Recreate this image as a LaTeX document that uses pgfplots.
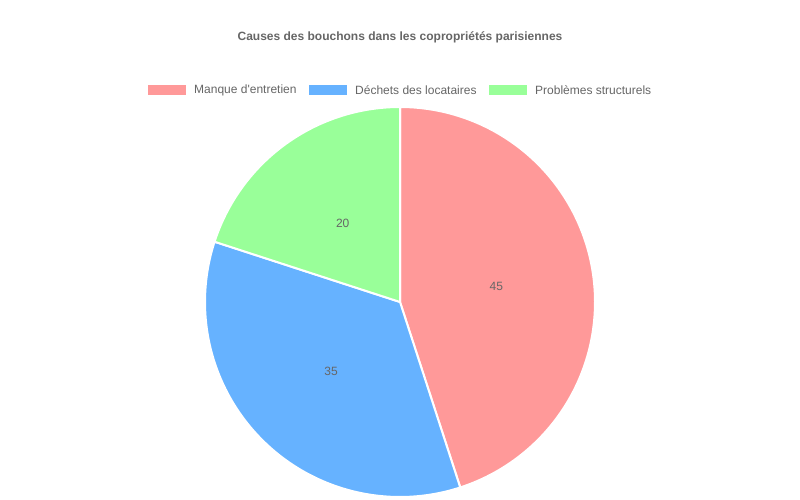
\documentclass[border=0pt]{standalone}
\usepackage{pgfplots}
\pgfplotsset{compat=1.18}
\usepackage{fontspec}
\setmainfont{Liberation Sans}
\definecolor{cA}{HTML}{FF9999}
\definecolor{cB}{HTML}{66B2FF}
\definecolor{cC}{HTML}{99FF99}
\definecolor{txt}{HTML}{666666}
\begin{document}
\begin{tikzpicture}
\fill[white] (0,0) rectangle (800pt,500pt);
\def\vA{45}\def\vB{35}\def\vC{20}
\pgfmathsetmacro\aA{90}
\pgfmathsetmacro\aB{90-3.6*\vA}
\pgfmathsetmacro\aC{\aB-3.6*\vB}
\pgfmathsetmacro\aD{\aC-3.6*\vC}
\pgfmathsetmacro\mA{(\aA+\aB)/2}
\pgfmathsetmacro\mB{(\aB+\aC)/2}
\pgfmathsetmacro\mC{(\aC+\aD)/2}
\begin{axis}[
  at={(0,0)}, anchor=south west,
  width=800pt, height=500pt, scale only axis,
  xmin=0, xmax=800, ymin=0, ymax=500,
  axis lines=none, clip=false,
]
\addplot[fill=cA, draw=white, line width=2pt, domain=\aB:\aA, samples=120, line join=round]
  ({400+195*cos(x)},{198+195*sin(x)}) -- (axis cs:400,198) -- cycle;
\addplot[fill=cB, draw=white, line width=2pt, domain=\aC:\aB, samples=120, line join=round]
  ({400+195*cos(x)},{198+195*sin(x)}) -- (axis cs:400,198) -- cycle;
\addplot[fill=cC, draw=white, line width=2pt, domain=\aD:\aC, samples=120, line join=round]
  ({400+195*cos(x)},{198+195*sin(x)}) -- (axis cs:400,198) -- cycle;
\node[text=txt, font=\fontsize{12}{14}\selectfont] at (axis cs:{400+97.5*cos(\mA)},{198+97.5*sin(\mA)}) {\vA};
\node[text=txt, font=\fontsize{12}{14}\selectfont] at (axis cs:{400+97.5*cos(\mB)},{198+97.5*sin(\mB)}) {\vB};
\node[text=txt, font=\fontsize{12}{14}\selectfont] at (axis cs:{400+97.5*cos(\mC)},{198+97.5*sin(\mC)}) {\vC};
% title
\node[text=txt, font=\fontsize{12}{14}\selectfont\bfseries] at (axis cs:400,463) {Causes des bouchons dans les copropriétés parisiennes};
% legend
\fill[cA] (axis cs:148,405) rectangle (axis cs:186,415);
\node[text=txt, anchor=west, inner sep=0pt, font=\fontsize{12}{14}\selectfont] at (axis cs:194,410) {Manque d\textquotesingle entretien};
\fill[cB] (axis cs:309,405) rectangle (axis cs:347,415);
\node[text=txt, anchor=west, inner sep=0pt, font=\fontsize{12}{14}\selectfont] at (axis cs:355,410) {Déchets des locataires};
\fill[cC] (axis cs:489,405) rectangle (axis cs:527,415);
\node[text=txt, anchor=west, inner sep=0pt, font=\fontsize{12}{14}\selectfont] at (axis cs:535,410) {Problèmes structurels};
\end{axis}
\end{tikzpicture}
\end{document}
